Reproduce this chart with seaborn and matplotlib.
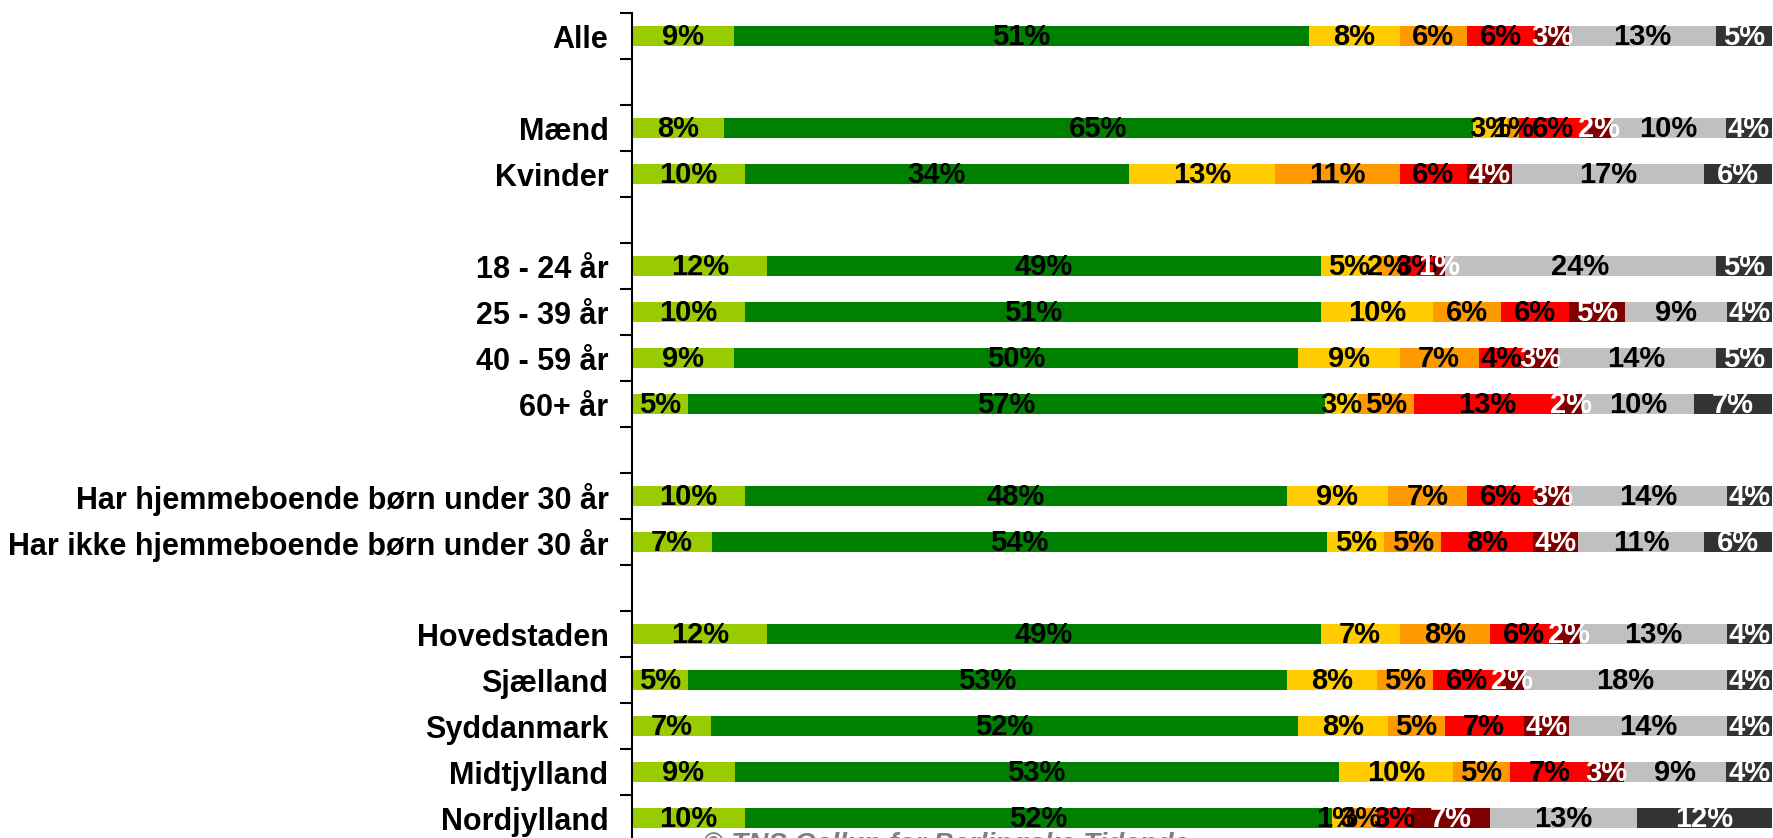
import pandas as pd
import matplotlib.pyplot as plt
import seaborn as sns

# Rows in the chart (None = empty spacer row)
rows = ["Alle", None, "Mænd", "Kvinder", None,
        "18 - 24 år", "25 - 39 år", "40 - 59 år", "60+ år", None,
        "Har hjemmeboende børn under 30 år", "Har ikke hjemmeboende børn under 30 år", None,
        "Hovedstaden", "Sjælland", "Syddanmark", "Midtjylland", "Nordjylland"]

groups = [r for r in rows if r is not None]

# Series values (%), one value per group in the order above
light_green = [9, 8, 10, 12, 10, 9, 5, 10, 7, 12, 5, 7, 9, 10]
green = [51, 65, 34, 49, 51, 50, 57, 48, 54, 49, 53, 52, 53, 52]
yellow = [8, 3, 13, 5, 10, 9, 3, 9, 5, 7, 8, 8, 10, 1]
orange = [6, 1, 11, 2, 6, 7, 5, 7, 5, 8, 5, 5, 5, 3]
red = [6, 6, 6, 3, 6, 4, 13, 6, 8, 6, 6, 7, 7, 3]
dark_red = [3, 2, 4, 1, 5, 3, 2, 3, 4, 2, 2, 4, 3, 7]
grey = [13, 10, 17, 24, 9, 14, 10, 14, 11, 13, 18, 14, 9, 13]
dark_grey = [5, 4, 6, 5, 4, 5, 7, 4, 6, 4, 4, 4, 4, 12]

series = [light_green, green, yellow, orange, red, dark_red, grey, dark_grey]
colors = ["#99CC00", "#008000", "#FFCC00", "#FF9900", "#FF0000", "#800000", "#C0C0C0", "#333333"]
text_colors = ["black", "black", "black", "black", "black", "white", "black", "white"]

# build table, scale every row to 100 %
df = pd.DataFrame(dict(zip(range(8), series)), index=groups)
share = df.div(df.sum(axis=1), axis=0) * 100
cum = share.cumsum(axis=1)

# placeholder names for empty rows so they get their own slot
order = [r if r is not None else " " * (i + 1) for i, r in enumerate(rows)]

sns.set_style("white")
plt.rcParams["font.family"] = ["Liberation Sans", "DejaVu Sans"]
plt.rcParams["text.color"] = "black"
plt.rcParams["ytick.color"] = "black"

fig = plt.figure(figsize=(17.73, 8.38), dpi=100)
ax = fig.add_axes([632 / 1773, -3 / 838, 1140 / 1773, 828 / 838])

# stacked bars: draw cumulative totals from the right-most segment backwards
for k in range(7, -1, -1):
    d = pd.DataFrame({"grp": groups, "val": cum[k].values})
    sns.barplot(data=d, x="val", y="grp", order=order, orient="h",
                color=colors[k], saturation=1, width=0.44, linewidth=0,
                errorbar=None, ax=ax)

# value labels
for g in groups:
    yi = order.index(g)
    for k in range(8):
        left = cum.loc[g, k] - share.loc[g, k]
        ax.text(left + share.loc[g, k] / 2, yi + 0.02, f"{df.loc[g, k]}%",
                ha="center", va="center", fontsize=21, fontweight="bold",
                color=text_colors[k])

ax.set_xlim(0, 100)
ax.set_ylim(len(order) - 0.5, -0.5)
ax.set_xlabel("")
ax.set_ylabel("")
ax.set_xticks([])

# tick marks between rows, labels at row centres
ax.set_yticks([i - 0.5 for i in range(len(order) + 1)])
ax.set_yticklabels([])
ax.set_yticks(range(len(order)), minor=True)
ax.set_yticklabels([r if r is not None else "" for r in rows], minor=True,
                   fontsize=22, fontweight="bold", color="black")
ax.tick_params(axis="y", which="major", length=9, width=1.5, direction="out",
               left=True, color="black")
ax.tick_params(axis="y", which="minor", length=0, pad=17)

for s in ["top", "right", "bottom"]:
    ax.spines[s].set_visible(False)
ax.spines["left"].set_color("black")
ax.spines["left"].set_linewidth(1.5)

fig.text(703 / 1773, 1 - 832 / 838, "© TNS Gallup for Berlingske Tidende",
         ha="left", va="top", fontsize=20, fontweight="bold", fontstyle="italic",
         color="#808080")

fig.savefig("out.png", dpi=100)
